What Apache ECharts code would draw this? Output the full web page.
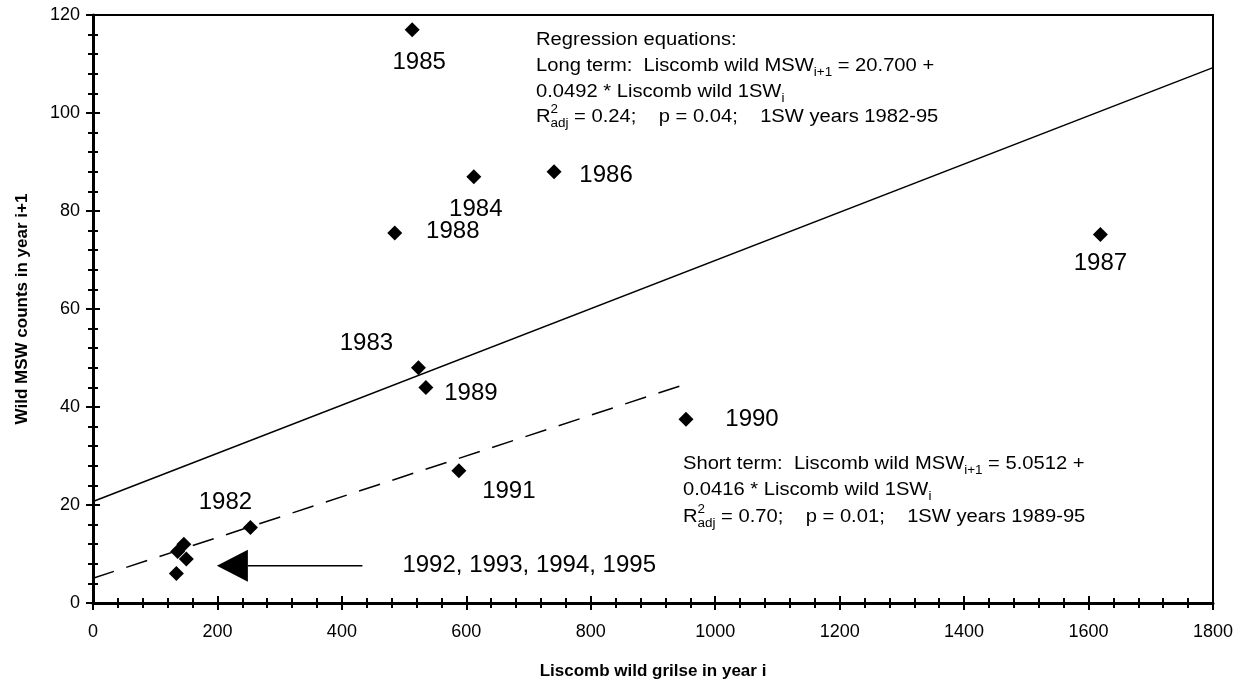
<!DOCTYPE html>
<html><head><meta charset="utf-8">
<script src="https://cdn.jsdelivr.net/npm/echarts@6/dist/echarts.min.js"></script>
<style>html,body{margin:0;padding:0;background:#fff}#c{width:1251px;height:686px}</style>
</head><body><div id="c"></div>
<script>
// ---- data ----
const years  = ['1982','1983','1984','1985','1986','1987','1988','1989','1990','1991','1992','1993','1994','1995'];
const grilse = [253, 523, 612, 513, 741, 1619, 485, 535, 953, 588, 134, 136, 150, 146];
const msw    = [15.4, 48, 87, 117, 88, 75.2, 75.5, 44, 37.5, 27, 6, 10.5, 9, 12];
const xTicks = {min: 0, max: 1800, interval: 200};
const yTicks = {min: 0, max: 120, interval: 20};
// regression equations (from the annotation)
const longTerm  = {intercept: 20.700, slope: 0.0492, from: 0, to: 1800};
const shortTerm = {intercept: 5.0512, slope: 0.0416, from: 0, to: 953};
// arrow pointing at the 1992-95 cluster
const arrowY = 7.6, arrowTip = 199, arrowBase = 249, arrowTail = 433;
const clusterLabel = '1992, 1993, 1994, 1995';

// ---- label placement (px offsets), style only ----
const labelOffsets = {
  '1982': [-25, -25], '1983': [-52, -24], '1984': [2, 33], '1985': [7, 33],
  '1986': [52, 4], '1987': [0, 29], '1988': [58, -2], '1989': [45, 6],
  '1990': [66, 0], '1991': [50, 21]
};

const FONT = '"Liberation Sans", Arial, Helvetica, sans-serif';
const chart = echarts.init(document.getElementById('c'), null, {renderer: 'canvas'});

function regLine(r) {
  return [[r.from, r.intercept + r.slope * r.from], [r.to, r.intercept + r.slope * r.to]];
}

const pointData = years.map((y, i) => {
  const off = labelOffsets[y];
  return {
    name: y,
    value: [grilse[i], msw[i]],
    label: off ? {show: true, position: 'inside', offset: off, formatter: y} : {show: false}
  };
});

function axisPair(dir, t, name, nameGap) {
  const common = {
    type: 'value', min: t.min, max: t.max, interval: t.interval,
    splitLine: {show: false}
  };
  const pos = dir === 'x' ? 'bottom' : 'left';
  return [
    Object.assign({}, common, {
      position: pos,
      axisLine: {show: true, onZero: false, lineStyle: {color: '#000', width: 3}},
      axisTick: {show: true, inside: false, length: 7, lineStyle: {color: '#000', width: 2}},
      minorTick: {show: true, splitNumber: 5, length: 5, lineStyle: {color: '#000', width: 2}},
      axisLabel: {color: '#000', fontSize: 18, fontFamily: FONT, margin: dir === 'x' ? 20 : 13,
                  formatter: v => String(v)},
      name: name, nameLocation: 'middle', nameGap: nameGap,
      nameTextStyle: {color: '#000', fontSize: 17, fontWeight: 'bold', fontFamily: FONT}
    }),
    Object.assign({}, common, {
      position: pos,
      axisLine: {show: false, onZero: false},
      axisTick: {show: true, inside: true, length: 7, lineStyle: {color: '#000', width: 2}},
      minorTick: {show: true, splitNumber: 5, length: 5, lineStyle: {color: '#000', width: 2}},
      axisLabel: {show: false}
    })
  ];
}

const AF = 18;
const rich = {
  sub: {fontSize: 12, fontFamily: FONT, color: '#000', verticalAlign: 'bottom', lineHeight: 12},
  sup: {fontSize: 12, fontFamily: FONT, color: '#000', verticalAlign: 'top', lineHeight: 12, width: 0},
  n: {fontSize: AF, fontFamily: FONT, color: '#000', lineHeight: 26}
};
const S = '\u00a0';
const GAP = S + S + S + S;
function annot(x, y, text) {
  return {
    type: 'text', x: x, y: y, z: 10, scaleX: 1.12,
    style: {text: text, rich: rich, fill: '#000', font: AF + 'px ' + FONT, verticalAlign: 'middle', align: 'left'}
  };
}

const option = {
  animation: false,
  backgroundColor: '#fff',
  grid: {left: 93, right: 38, top: 15, bottom: 83, show: true, borderColor: '#000', borderWidth: 2, containLabel: false},
  xAxis: axisPair('x', xTicks, 'Liscomb wild grilse in year i', 60),
  yAxis: axisPair('y', yTicks, 'Wild MSW counts in year i+1', 62),
  series: [
    {type: 'line', data: regLine(longTerm), symbol: 'none', silent: true,
     lineStyle: {color: '#000', width: 1.5}, z: 2},
    {type: 'line', data: regLine(shortTerm), symbol: 'none', silent: true,
     lineStyle: {color: '#000', width: 1.5, type: [22, 13]}, z: 2},
    {type: 'line', data: [[arrowBase, arrowY], [arrowTail, arrowY]], symbol: 'none', silent: true,
     lineStyle: {color: '#000', width: 1.5}, z: 2,
     endLabel: {show: true, formatter: clusterLabel, distance: 40, color: '#000', fontSize: 24, fontFamily: FONT}},
    {type: 'scatter', data: [[(arrowTip + arrowBase) / 2, arrowY]], symbol: 'triangle', symbolRotate: 90,
     symbolSize: [32, 31], itemStyle: {color: '#000', opacity: 1}, silent: true, z: 3},
    {type: 'scatter', data: pointData, symbol: 'diamond', symbolSize: 15, silent: true,
     itemStyle: {color: '#000', opacity: 1}, z: 5,
     label: {color: '#000', fontSize: 24, fontFamily: FONT, align: 'center', verticalAlign: 'middle'}}
  ],
  graphic: [
    annot(536, 40, '{n|Regression equations:}'),
    annot(536, 66, '{n|Long term:' + S + S + 'Liscomb wild MSW}{sub|i+1}{n| = 20.700 +}'),
    annot(536, 92, '{n|0.0492 * Liscomb wild 1SW}{sub|i}'),
    annot(536, 117, '{n|R}{sup|2}{sub|adj}{n| = 0.24;' + GAP + 'p = 0.04;' + GAP + '1SW years 1982-95}'),
    annot(683, 464, '{n|Short term:' + S + S + 'Liscomb wild MSW}{sub|i+1}{n| = 5.0512 +}'),
    annot(683, 490, '{n|0.0416 * Liscomb wild 1SW}{sub|i}'),
    annot(683, 517, '{n|R}{sup|2}{sub|adj}{n| = 0.70;' + GAP + 'p = 0.01;' + GAP + '1SW years 1989-95}')
  ]
};
chart.setOption(option);
</script></body></html>
